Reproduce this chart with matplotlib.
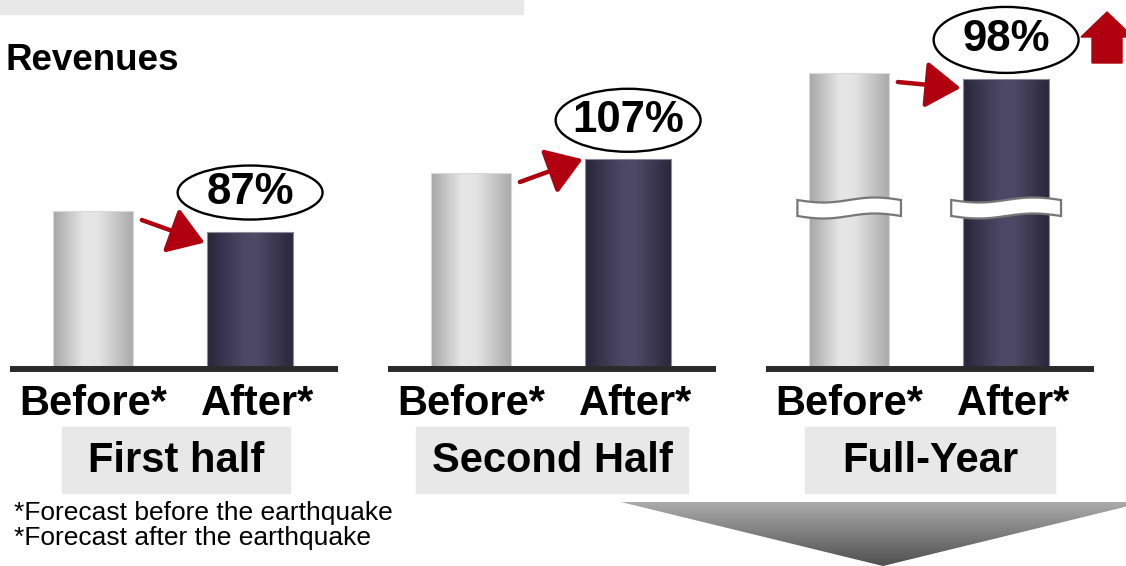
import matplotlib.pyplot as plt
import numpy as np
from matplotlib.colors import LinearSegmentedColormap
from matplotlib.patches import Ellipse, Polygon, Rectangle

plt.rcParams['font.family'] = ['Liberation Sans', 'DejaVu Sans']

# revenue forecasts (bar heights on a common scale) and the change after the quake
periods = ['First half', 'Second Half', 'Full-Year']
before_vals = [158, 196, 296]
change_pct = [87, 107, 98]
after_vals = [b * p / 100 for b, p in zip(before_vals, change_pct)]
bar_labels = ['Before*', 'After*']
notes = ['*Forecast before the earthquake', '*Forecast after the earthquake']

W, H = 1126, 566
fig = plt.figure(figsize=(W / 100, H / 100), dpi=100)

# background layer in pixel units: boxes, captions, big arrows
deco = fig.add_axes([0, 0, 1, 1], zorder=0)
deco.axis('off')

deco.add_patch(Rectangle((0, 0), 523, 14, color='#e8e8e8'))
deco.text(5, 61, 'Revenues', fontsize=26.5, fontweight='bold', va='center')

box_left = [62, 416, 805]
box_width = [228, 272, 250]
for x0, bw, name in zip(box_left, box_width, periods):
    deco.add_patch(Rectangle((x0, 427), bw, 66, color='#e8e8e8'))
    deco.text(x0 + bw / 2, 461, name, fontsize=30, fontweight='bold',
              ha='center', va='center')

deco.text(14, 513, notes[0], fontsize=19, va='center')
deco.text(14, 538, notes[1], fontsize=19, va='center')

# shaded arrow pointing down at the bottom right
tri = Polygon([(621, 502), (1145, 502), (883, 566)], closed=True,
              fc='none', ec='none')
deco.add_patch(tri)
vgrad = np.linspace(0, 1, 256).reshape(-1, 1)
shade = LinearSegmentedColormap.from_list('shade', ['#ababab', '#4f4f4f'])
im = deco.imshow(vgrad, cmap=shade, aspect='auto', origin='upper',
                 extent=(621, 1145, 566, 502))
im.set_clip_path(tri)

# red "up" arrow next to the full-year figure
deco.add_patch(Polygon([(1092, 63), (1122, 63), (1122, 37), (1133, 37),
                        (1107, 12), (1081, 37), (1092, 37)],
                       closed=True, color='#b0000f'))
deco.set_xlim(0, W)
deco.set_ylim(H, 0)

gray_cmap = LinearSegmentedColormap.from_list(
    'gray_bar', [(0, '#a6a6a6'), (0.38, '#e6e6e6'), (0.56, '#e4e4e4'), (1, '#a9a9a9')])
dark_cmap = LinearSegmentedColormap.from_list(
    'dark_bar', [(0, '#28263a'), (0.42, '#4c4764'), (0.58, '#4e4966'), (1, '#29273a')])
hgrad = np.linspace(0, 1, 256).reshape(1, -1)


def shade_bar(ax, rect, cmap):
    x0, y0 = rect.get_x(), rect.get_y()
    img = ax.imshow(hgrad, cmap=cmap, aspect='auto', zorder=2,
                    extent=(x0, x0 + rect.get_width(), y0, y0 + rect.get_height()))
    img.set_clip_path(rect)


panel_left = [10, 388, 766]
panel_w = 328
base_y = 369
widths = [0.51, 0.55]
ellipse_h = [54, 63, 66]
tip_drop = [11, 0, 9]

for i in range(3):
    ax = fig.add_axes([panel_left[i] / W, (H - base_y) / H, panel_w / W, base_y / H],
                      zorder=1)
    ax.patch.set_visible(False)
    bars = ax.bar([0, 1], [before_vals[i], after_vals[i]], width=widths,
                  color='none', edgecolor=['#dadada', '#8e8c9c'], linewidth=0.8, zorder=3)
    shade_bar(ax, bars[0], gray_cmap)
    shade_bar(ax, bars[1], dark_cmap)

    ax.axhline(0, color='#2b2b2b', lw=4.3, solid_capstyle='butt', clip_on=False, zorder=5)

    # percentage bubble above the "after" bar
    cy = after_vals[i] + 39
    ax.add_patch(Ellipse((1, cy), 145 / 157, ellipse_h[i], fc='white', ec='black',
                         lw=1.7, clip_on=False, zorder=6))
    ax.text(1, cy, f'{change_pct[i]}%', fontsize=31.5, fontweight='bold',
            ha='center', va='center', zorder=7)

    ax.annotate('', xy=(0.71, after_vals[i] - tip_drop[i]), xytext=(0.31, before_vals[i] - 9),
                arrowprops=dict(arrowstyle='-|>,head_length=0.6,head_width=0.4',
                                mutation_scale=36, color='#b0000f', lw=3.2,
                                shrinkA=0, shrinkB=0),
                zorder=6)

    # axis break on the full-year bars
    if i == 2:
        t = np.linspace(0, 1, 80)
        for x, w in zip([0, 1], widths):
            xs = x - w / 2 - 0.075 + t * (w + 0.15)
            yc = 161 - 2.5 * np.sin(2 * np.pi * t)
            pts = np.column_stack([np.r_[xs, xs[::-1]], np.r_[yc + 8, (yc - 8)[::-1]]])
            ax.add_patch(Polygon(pts, closed=True, fc='white', ec='#777777',
                                 lw=1.6, zorder=4, clip_on=False))

    ax.set_xlim(-0.53, 1.56)
    ax.set_ylim(0, base_y)
    ax.set_xticks([0, 1.05], bar_labels)
    ax.tick_params(length=0, pad=11, labelsize=30)
    for lbl in ax.get_xticklabels():
        lbl.set_fontweight('bold')
    ax.set_yticks([])
    for s in ax.spines.values():
        s.set_visible(False)

fig.savefig('out.png', dpi=100)
